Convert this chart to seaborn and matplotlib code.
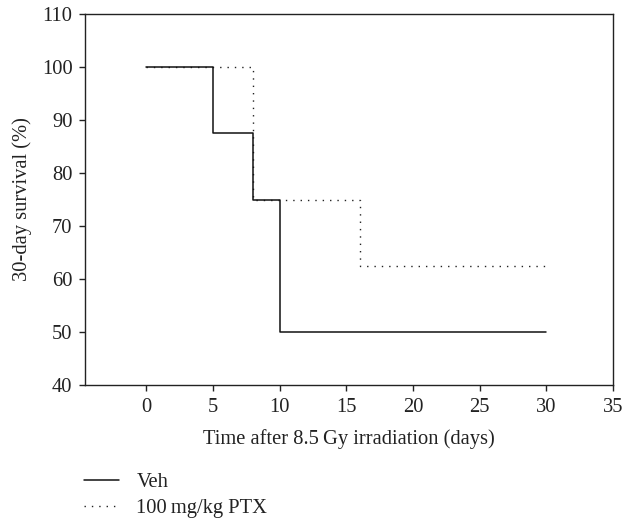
import matplotlib
matplotlib.use("Agg")
import matplotlib.pyplot as plt
import seaborn as sns
import pandas as pd

veh_time = [0, 5, 8, 10, 30]
veh_surv = [100, 87.5, 75, 50, 50]
ptx_time = [0, 8, 16, 30]
ptx_surv = [100, 75, 62.5, 62.5]
labels = ["Veh", "100\u2009mg/kg PTX"]
xticks = [0, 5, 10, 15, 20, 25, 30, 35]
yticks = [40, 50, 60, 70, 80, 90, 100, 110]

sns.set_theme(style="ticks")
plt.rcParams['font.family'] = ['Liberation Serif', 'DejaVu Serif']
plt.rcParams['text.color'] = '#222222'

df_veh = pd.DataFrame({"t": veh_time, "s": veh_surv})
df_ptx = pd.DataFrame({"t": ptx_time, "s": ptx_surv})

fs = 14.8
fig = plt.figure(figsize=(6.26, 5.18), dpi=100)
ax = fig.add_axes([85/626, 1-385/518, (613-85)/626, (385-14)/518])

sns.lineplot(data=df_ptx, x="t", y="s", ax=ax, drawstyle="steps-post",
             color="#222222", lw=1.0, linestyle=(0, (1, 4.3)), label=labels[1])
sns.lineplot(data=df_veh, x="t", y="s", ax=ax, drawstyle="steps-post",
             color="#111111", lw=1.1, label=labels[0])

ax.set_xlim(-4.6, 35)
ax.set_ylim(40, 110)
ax.set_xticks(xticks)
ax.set_yticks(yticks)
for s in ax.spines.values():
    s.set_color("#222222")
    s.set_linewidth(1.0)
ax.tick_params(direction="out", length=4, width=1, colors="#222222",
               labelsize=fs, pad=5)
ax.set_xlabel("Time after 8.5\u2009Gy irradiation (days)", fontsize=fs, color="#222222", labelpad=9)
ax.set_ylabel("30-day survival (%)", fontsize=fs, color="#222222", labelpad=7)

ax.get_legend().remove()
h, l = ax.get_legend_handles_labels()
order = [1, 0]
fig.legend([h[i] for i in order], [l[i] for i in order], loc="upper left",
           bbox_to_anchor=(84/626, 1-473/518), frameon=False, fontsize=fs,
           borderpad=0, borderaxespad=0, handlelength=1.7, handletextpad=0.85,
           labelspacing=0.3)

fig.savefig("out.png", dpi=100)
